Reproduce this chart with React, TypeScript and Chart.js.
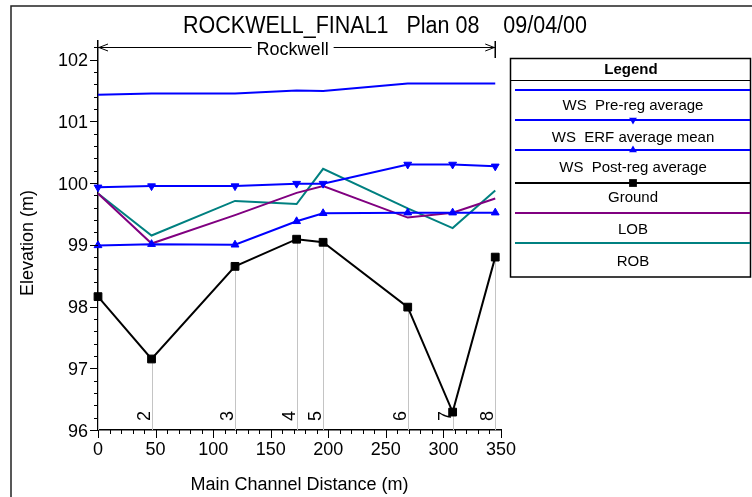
import React, { useEffect, useRef } from "react";
import { Chart, registerables } from "chart.js";

Chart.register(...registerables);

// ---------------- data ----------------
const titleText = "ROCKWELL_FINAL1   Plan 08    09/04/00";
const reachName = "Rockwell";
const sections = ["1", "2", "3", "4", "5", "6", "7", "8"];
const distance = [0, 46.5, 119, 172.5, 195.5, 269, 308, 345];
const wsPreReg = [101.43, 101.45, 101.45, 101.5, 101.49, 101.61, 101.61, 101.61];
const wsErfMean = [99.93, 99.95, 99.95, 99.99, 99.99, 100.3, 100.3, 100.27];
const wsPostReg = [98.99, 99.01, 99.0, 99.38, 99.51, 99.52, 99.52, 99.52];
const ground = [98.16, 97.15, 98.65, 99.09, 99.04, 97.99, 96.29, 98.8];
const lob = [99.83, 99.02, 99.48, 99.84, 99.95, 99.44, 99.52, 99.75];
const rob = [99.83, 99.15, 99.71, 99.66, 100.23, 99.59, 99.27, 99.88];
const seriesNames = [
  "WS  Pre-reg average",
  "WS  ERF average mean",
  "WS  Post-reg average",
  "Ground",
  "LOB",
  "ROB",
];
const xTicks = [0, 50, 100, 150, 200, 250, 300, 350];
const xMinorStep = 10;
const yTicks = [96, 97, 98, 99, 100, 101, 102];
const yMinorStep = 0.2;
const yMin = 96;
const yMax = 102.3;
const xMin = 0;
const xMax = 350;
const xTitle = "Main Channel Distance (m)";
const yTitle = "Elevation (m)";
const legendTitle = "Legend";

const FONT = '"Liberation Sans", Arial, Helvetica, sans-serif';

const pts = (arr: number[]) => distance.map((d, i) => ({ x: d, y: arr[i] }));

function drawMarker(ctx: CanvasRenderingContext2D, style: string, rot: number, x: number, y: number, r: number, color: string) {
  ctx.save();
  ctx.fillStyle = color;
  ctx.beginPath();
  if (style === "rect") {
    const s = Math.SQRT1_2 * r;
    ctx.rect(x - s, y - s, 2 * s, 2 * s);
  } else if (style === "triangle") {
    const dir = rot === 180 ? -1 : 1;
    ctx.moveTo(x, y - dir * r);
    ctx.lineTo(x + r * 0.866, y + dir * r * 0.5);
    ctx.lineTo(x - r * 0.866, y + dir * r * 0.5);
    ctx.closePath();
  }
  ctx.fill();
  ctx.restore();
}

const decor = {
  id: "decor",
  beforeDatasetsDraw(chart: any) {
    const { ctx } = chart;
    const xs = chart.scales.x;
    const ys = chart.scales.y;
    ctx.save();
    ctx.strokeStyle = "#c4c4c4";
    ctx.lineWidth = 1;
    distance.forEach((d, i) => {
      const px = Math.round(xs.getPixelForValue(d)) + 0.5;
      ctx.beginPath();
      ctx.moveTo(px, ys.getPixelForValue(ground[i]));
      ctx.lineTo(px, ys.bottom);
      ctx.stroke();
    });
    ctx.fillStyle = "#000";
    ctx.font = `18px ${FONT}`;
    distance.forEach((d, i) => {
      if (i === 0) return;
      const px = xs.getPixelForValue(d);
      ctx.save();
      ctx.translate(px - 2, ys.bottom - 9);
      ctx.rotate(-Math.PI / 2);
      ctx.textAlign = "left";
      ctx.textBaseline = "alphabetic";
      ctx.fillText(sections[i], 0, 0);
      ctx.restore();
    });
    ctx.restore();
  },
  afterDraw(chart: any) {
    const { ctx } = chart;
    const xs = chart.scales.x;
    const ys = chart.scales.y;
    ctx.save();
    ctx.strokeStyle = "#000";
    ctx.fillStyle = "#000";

    // ticks
    ctx.lineWidth = 1;
    ctx.beginPath();
    for (let v = yMin; v <= yMax + 1e-6; v += yMinorStep) {
      const vv = Math.round(v * 10) / 10;
      const py = Math.round(ys.getPixelForValue(vv)) + 0.5;
      const major = Math.abs(vv - Math.round(vv)) < 1e-6;
      ctx.moveTo(ys.right - (major ? 8 : 4), py);
      ctx.lineTo(ys.right, py);
    }
    for (let v = xMin; v <= xMax + 1e-6; v += xMinorStep) {
      const px = Math.round(xs.getPixelForValue(v)) + 0.5;
      const major = v % 50 === 0;
      ctx.moveTo(px, xs.top);
      ctx.lineTo(px, xs.top + (major ? 8 : 4));
    }
    ctx.stroke();

    // tick labels
    ctx.font = `18px ${FONT}`;
    ctx.textAlign = "right";
    ctx.textBaseline = "alphabetic";
    yTicks.forEach((v) => {
      ctx.fillText(String(v), ys.right - 10, ys.getPixelForValue(v) + 6.5);
    });
    ctx.textAlign = "center";
    xTicks.forEach((v) => {
      ctx.fillText(String(v), xs.getPixelForValue(v), 455);
    });

    // axis titles
    ctx.textAlign = "center";
    ctx.fillText(xTitle, (xs.left + xs.right) / 2, 490);
    ctx.save();
    ctx.translate(33, 243);
    ctx.rotate(-Math.PI / 2);
    ctx.fillText(yTitle, 0, 0);
    ctx.restore();

    // chart title (fitted width)
    ctx.font = `23px ${FONT}`;
    const tw = ctx.measureText(titleText).width;
    ctx.save();
    ctx.translate(385, 33);
    ctx.scale(404 / tw, 1);
    ctx.textAlign = "center";
    ctx.fillText(titleText, 0, 0);
    ctx.restore();

    // reach bracket
    const bx0 = xs.getPixelForValue(distance[0]);
    const bx1 = xs.getPixelForValue(distance[distance.length - 1]);
    const by = 47.5;
    ctx.lineWidth = 1;
    ctx.beginPath();
    ctx.moveTo(bx0, by);
    ctx.lineTo(bx1, by);
    ctx.moveTo(bx0 + 10, by - 3.5);
    ctx.lineTo(bx0 + 1, by);
    ctx.lineTo(bx0 + 10, by + 3.5);
    ctx.moveTo(bx1 - 10, by - 3.5);
    ctx.lineTo(bx1 - 1, by);
    ctx.lineTo(bx1 - 10, by + 3.5);
    ctx.stroke();
    ctx.lineWidth = 1.5;
    ctx.beginPath();
    ctx.moveTo(bx1, 41);
    ctx.lineTo(bx1, 58);
    ctx.stroke();
    ctx.font = `18px ${FONT}`;
    const rw = ctx.measureText(reachName).width;
    const bc = (bx0 + bx1) / 2 - 4;
    ctx.fillStyle = "#fff";
    ctx.fillRect(bc - rw / 2 - 5, 40, rw + 10, 16);
    ctx.fillStyle = "#000";
    ctx.textAlign = "center";
    ctx.fillText(reachName, bc, 54.5);

    // legend
    const L = { left: 510.5, top: 58.5, right: 750.5, bottom: 277 };
    ctx.lineWidth = 1.5;
    ctx.strokeRect(L.left, L.top, L.right - L.left, L.bottom - L.top);
    ctx.lineWidth = 1;
    ctx.beginPath();
    ctx.moveTo(L.left, 80.5);
    ctx.lineTo(L.right, 80.5);
    ctx.stroke();
    ctx.font = `bold 15px ${FONT}`;
    ctx.fillText(legendTitle, 631, 73.5);
    const lineYs = [90, 120, 150, 183, 213, 243];
    const textYs = [110, 142, 172, 202, 234, 266];
    ctx.font = `15px ${FONT}`;
    chart.data.datasets.forEach((ds: any, i: number) => {
      const ly = lineYs[i];
      ctx.strokeStyle = ds.borderColor;
      ctx.lineWidth = 2;
      ctx.beginPath();
      ctx.moveTo(515, ly);
      ctx.lineTo(750, ly);
      ctx.stroke();
      if (ds.pointRadius > 0) {
        drawMarker(ctx, ds.pointStyle, ds.rotation || 0, 633, ly, ds.pointRadius, ds.borderColor);
      }
      ctx.fillStyle = "#000";
      ctx.fillText(ds.label, 633, textYs[i]);
    });

    // outer frame
    ctx.strokeStyle = "#222";
    ctx.lineWidth = 1.5;
    ctx.strokeRect(11, 6, 800, 600);
    ctx.restore();
  },
};

export default function App() {
  const ref = useRef<HTMLCanvasElement | null>(null);
  useEffect(() => {
    if (!ref.current) return;
    const mk = (label: string, arr: number[], color: string, extra: any = {}) => ({
      label,
      data: pts(arr),
      borderColor: color,
      backgroundColor: color,
      pointBackgroundColor: color,
      pointBorderColor: color,
      borderWidth: 2,
      pointRadius: 0,
      pointBorderWidth: 1,
      tension: 0,
      clip: false,
      ...extra,
    });
    const chart = new Chart(ref.current, {
      type: "line",
      data: {
        datasets: [
          mk(seriesNames[0], wsPreReg, "#0000ff"),
          mk(seriesNames[1], wsErfMean, "#0000ff", { pointRadius: 4.5, pointStyle: "triangle", rotation: 180 }),
          mk(seriesNames[2], wsPostReg, "#0000ff", { pointRadius: 4.5, pointStyle: "triangle" }),
          mk(seriesNames[3], ground, "#000000", { pointRadius: 5.5, pointStyle: "rect" }),
          mk(seriesNames[4], lob, "#800080"),
          mk(seriesNames[5], rob, "#008080"),
        ],
      },
      options: {
        responsive: false,
        animation: false,
        devicePixelRatio: 1,
        layout: { padding: { top: 41, right: 251, left: 0, bottom: 0 } },
        plugins: {
          legend: { display: false },
          title: { display: false },
          tooltip: { enabled: false },
        },
        scales: {
          x: {
            type: "linear",
            min: xMin,
            max: xMax,
            grid: { display: false },
            ticks: { display: false },
            border: { display: true, color: "#000", width: 1.5 },
            afterFit: (s: any) => {
              s.height = 67;
            },
          },
          y: {
            type: "linear",
            min: yMin,
            max: yMax,
            grid: { display: false },
            ticks: { display: false },
            border: { display: true, color: "#000", width: 1.5 },
            afterFit: (s: any) => {
              s.width = 98;
            },
          },
        },
      } as any,
      plugins: [decor],
    });
    return () => chart.destroy();
  }, []);
  return (
    <div style={{ position: "fixed", left: 0, top: 0, width: 752, height: 497, background: "#fff" }}>
      <canvas ref={ref} width={752} height={497} style={{ display: "block" }} />
    </div>
  );
}
